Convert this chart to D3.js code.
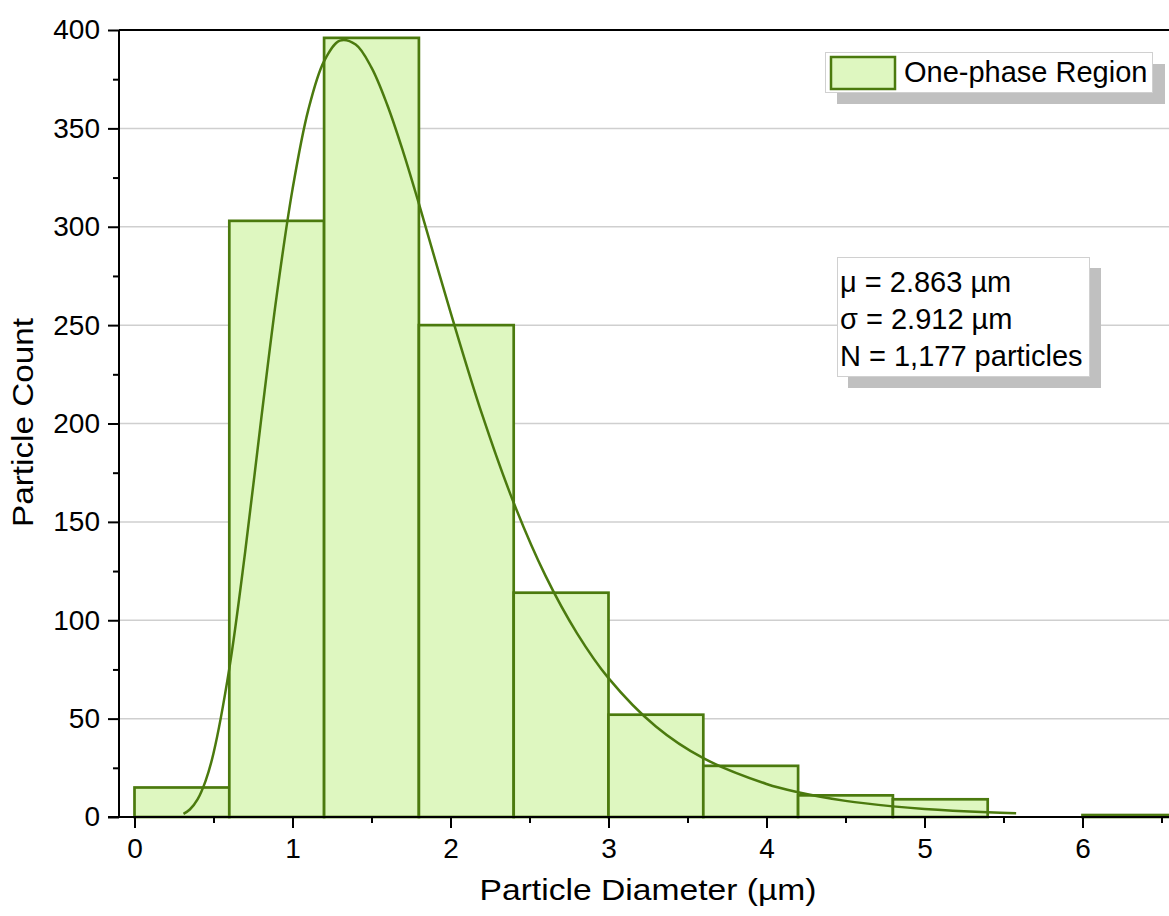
<!DOCTYPE html>
<html>
<head>
<meta charset="utf-8">
<script src="https://cdn.jsdelivr.net/npm/d3@7"></script>
<style>
  html, body { margin: 0; padding: 0; background: #fff; }
  svg { display: block; font-family: "Liberation Sans", Arial, sans-serif; }
</style>
</head>
<body>
<svg id="chart" width="1169" height="916"></svg>
<script>
// ---- data ----
const binStarts = [0, 0.6, 1.2, 1.8, 2.4, 3.0, 3.6, 4.2, 4.8, 5.4, 6.0];
const binWidth = 0.6;
const counts = [15, 303, 396, 250, 114, 52, 26, 11, 9, 0, 1];
const fitX = [0.31, 0.35, 0.40, 0.45, 0.50, 0.60, 0.70, 0.80, 0.90, 1.00, 1.10, 1.20, 1.30, 1.40, 1.50, 1.60, 1.70, 1.80, 2.00, 2.20, 2.40, 2.60, 2.80, 3.00, 3.30, 3.60, 4.00, 4.20, 4.50, 4.80, 5.00, 5.40, 5.58];
const fitY = [1.6, 3.8, 9.1, 18.4, 32.4, 75.4, 134.5, 201, 265, 319, 359.4, 384.2, 394.6, 392.6, 380.9, 361.9, 338.2, 311.7, 256.6, 204.6, 159.7, 122.8, 93.5, 70.6, 46.0, 29.9, 16.8, 12.6, 8.2, 5.4, 4.1, 2.4, 1.9];
const xTicks = [0, 1, 2, 3, 4, 5, 6];
const yTicks = [0, 50, 100, 150, 200, 250, 300, 350, 400];
const legendLabel = "One-phase Region";
const statsLines = ["\u03bc = 2.863 \u00b5m", "\u03c3 = 2.912 \u00b5m", "N = 1,177 particles"];
const xTitle = "Particle Diameter (\u00b5m)";
const yTitle = "Particle Count";

// ---- styles ----
const green = "#4b7a0e";
const fill = "#def7c0";

const svg = d3.select("#chart");
const x = d3.scaleLinear().domain([0, 6]).range([134.5, 1082.5]);
const y = d3.scaleLinear().domain([0, 400]).range([817, 30]);
const plotLeft = 119, plotRight = 1175;

// gridlines
svg.append("g").selectAll("line").data(yTicks.filter(v => v > 0 && v < 400)).join("line")
  .attr("x1", plotLeft).attr("x2", plotRight)
  .attr("y1", d => y(d)).attr("y2", d => y(d))
  .attr("stroke", "#cfcfcf").attr("stroke-width", 1.5);

// bars
svg.append("g").selectAll("rect").data(binStarts.map((s, i) => ({s, c: counts[i]})).filter(d => d.c > 0)).join("rect")
  .attr("x", d => x(d.s)).attr("width", d => x(d.s + binWidth) - x(d.s))
  .attr("y", d => y(d.c)).attr("height", d => y(0) - y(d.c))
  .attr("fill", fill).attr("stroke", green).attr("stroke-width", 2.7);

// fit curve
const pts = fitX.map((v, i) => [v, fitY[i]]);
svg.append("path").datum(pts)
  .attr("d", d3.line().x(d => x(d[0])).y(d => y(d[1])).curve(d3.curveCatmullRom.alpha(0.5)))
  .attr("fill", "none").attr("stroke", green).attr("stroke-width", 2.5);

// axes
const xAxis = d3.axisBottom(x).tickValues(xTicks).tickSize(11).tickPadding(10).tickFormat(d3.format("d"));
const xMinor = d3.axisBottom(x).tickValues(d3.range(0.5, 6.6, 1)).tickSize(6).tickFormat("");
const yAxis = d3.axisLeft(y).tickValues(yTicks).tickSize(11).tickPadding(8);
const yMinor = d3.axisLeft(y).tickValues(d3.range(25, 400, 50)).tickSize(6).tickFormat("");

const gx = svg.append("g").attr("transform", `translate(0,${y(0)})`).call(xAxis);
const gxm = svg.append("g").attr("transform", `translate(0,${y(0)})`).call(xMinor);
const gy = svg.append("g").attr("transform", `translate(${plotLeft},0)`).call(yAxis);
const gym = svg.append("g").attr("transform", `translate(${plotLeft},0)`).call(yMinor);
[gx, gxm, gy, gym].forEach(g => {
  g.select(".domain").remove();
  g.selectAll(".tick line").attr("stroke", "#000").attr("stroke-width", 2);
  g.selectAll("text").attr("fill", "#000").style("font-size", "28px").style("font-family", "Liberation Sans, Arial, sans-serif");
});
// axis lines
svg.append("line").attr("x1", plotLeft - 11).attr("x2", plotRight).attr("y1", y(0)).attr("y2", y(0)).attr("stroke", "#000").attr("stroke-width", 2);
svg.append("line").attr("x1", plotLeft).attr("x2", plotLeft).attr("y1", y(400)).attr("y2", y(0)).attr("stroke", "#000").attr("stroke-width", 2);
svg.append("line").attr("x1", plotLeft).attr("x2", plotRight).attr("y1", y(400)).attr("y2", y(400)).attr("stroke", "#000").attr("stroke-width", 2);

// titles
svg.append("text").attr("x", 648).attr("y", 900).attr("text-anchor", "middle")
  .attr("textLength", 337).attr("lengthAdjust", "spacingAndGlyphs")
  .style("font-size", "29px").text(xTitle);
svg.append("text").attr("transform", "translate(33,422.5) rotate(-90)").attr("text-anchor", "middle")
  .attr("textLength", 209).attr("lengthAdjust", "spacingAndGlyphs")
  .style("font-size", "29px").text(yTitle);

// legend
const lg = svg.append("g");
lg.append("rect").attr("x", 837).attr("y", 64).attr("width", 328).attr("height", 40).attr("fill", "#c0c0c0");
lg.append("rect").attr("x", 825.5).attr("y", 52.5).attr("width", 327).attr("height", 40).attr("fill", "#fff").attr("stroke", "#d0d0d0").attr("stroke-width", 1);
lg.append("rect").attr("x", 831).attr("y", 57).attr("width", 64).attr("height", 32).attr("fill", fill).attr("stroke", green).attr("stroke-width", 2.5);
lg.append("text").attr("x", 904).attr("y", 82).style("font-size", "29px").text(legendLabel);

// stats box
const sb = svg.append("g");
sb.append("rect").attr("x", 848).attr("y", 268).attr("width", 253).attr("height", 120).attr("fill", "#c0c0c0");
sb.append("rect").attr("x", 837.5).attr("y", 257.5).attr("width", 252).attr("height", 119).attr("fill", "#fff").attr("stroke", "#d0d0d0").attr("stroke-width", 1);
sb.selectAll("text.s").data(statsLines).join("text").attr("class", "s")
  .attr("x", 840).attr("y", (d, i) => 292 + i * 37)
  .style("font-size", "29px").text(d => d);
</script>
</body>
</html>
